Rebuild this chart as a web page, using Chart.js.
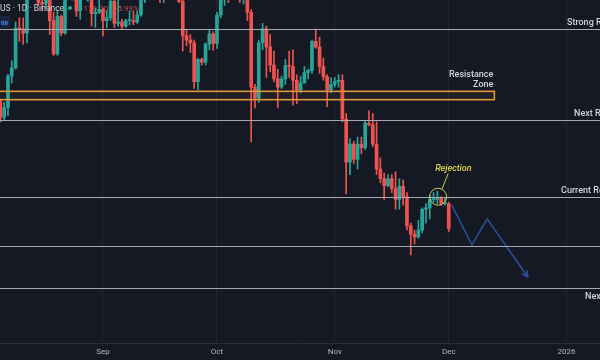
<!DOCTYPE html>
<html><head><meta charset="utf-8">
<script src="https://cdn.jsdelivr.net/npm/chart.js@4.4.1/dist/chart.umd.min.js"></script>
<style>html,body{margin:0;padding:0;background:#151924;overflow:hidden}#wrap{width:600px;height:360px;position:relative}</style>
</head><body><div id="wrap"><canvas id="c" width="600" height="360"></canvas></div>
<script>
// ---- DATA (Ethereum / TetherUS, 1D) ----
const startDate = '2025-08-05';
const opens = [
 3725,3612,3684,3910,3970,4255,4250,4220,4600,4750,4550,4440,4430,4470,4310,4070,4340,4220,4830,4780,4780,4380,4600,4510,4510,4360,4370,
 4390,4310,4330,4450,4290,4300,4270,4310,4310,4300,4350,4460,4720,4670,4600,4520,4500,4590,4580,4470,4480,4450,4200,4170,4150,3870,4030,4010,4140,4215,
 4145,4350,4480,4510,4490,4515,4690,4460,4525,4370,3830,3750,4150,4250,4120,3990,3890,3830,3890,3985,3980,3880,3810,3860,3935,3950,4160,4120,3980,3905,3810,
 3850,3870,3880,3600,3290,3420,3310,3420,3395,3570,3560,3420,3240,3170,3120,3170,3100,3020,3115,3040,2830,2770,2750,2800,2950,2960,3020,3020,3030,2990,
 2990];
const highs = [
 3745,3720,3925,4020,4300,4330,4330,4630,4790,4790,4730,4480,4520,4480,4370,4380,4350,4880,4850,4956,4800,4630,4660,4620,4530,4400,4480,
 4400,4380,4490,4490,4490,4320,4320,4380,4380,4380,4470,4740,4770,4680,4670,4520,4610,4640,4600,4500,4490,4460,4240,4210,4170,4040,4040,4150,4240,4230,
 4370,4500,4540,4530,4600,4755,4750,4530,4530,4390,3850,4170,4290,4270,4210,4090,3960,3910,4030,4090,4100,3920,3910,3980,3960,4170,4250,4190,4040,3920,3900,
 3900,3920,3920,3640,3460,3440,3470,3470,3590,3660,3640,3580,3320,3210,3200,3200,3220,3170,3160,3070,2850,2800,2870,2960,2990,3050,3070,3080,3040,3030,
 3000];
const lows = [
 3580,3595,3625,3860,3960,4160,4140,4150,4570,4480,4420,4380,4400,4210,4060,4060,4200,4210,4720,4700,4340,4320,4480,4450,4270,4260,4360,
 4200,4260,4310,4260,4270,4250,4260,4280,4280,4290,4340,4440,4630,4570,4480,4440,4440,4540,4460,4460,4440,4090,4130,4080,3820,3810,3990,3990,4100,4095,
 4110,4330,4420,4440,4470,4490,4440,4430,4310,3435,3680,3720,4100,3900,3940,3870,3680,3820,3850,3900,3700,3710,3790,3860,3890,3930,4110,3930,3880,3690,3790,
 3830,3830,3580,3060,3200,3280,3240,3350,3380,3550,3400,3200,3140,3020,3110,3070,2950,2950,2980,2800,2620,2700,2740,2780,2850,2880,3000,2990,2980,2980,
 2790];
const closes = [
 3612,3684,3910,3970,4255,4250,4220,4600,4750,4550,4440,4430,4470,4310,4070,4340,4220,4830,4780,4780,4380,4600,4510,4510,4360,4370,4390,
 4310,4330,4450,4290,4300,4270,4310,4310,4300,4350,4460,4720,4670,4600,4520,4500,4590,4580,4470,4480,4450,4200,4170,4150,3870,4030,4010,4140,4215,4145,
 4350,4480,4510,4490,4515,4690,4460,4525,4370,3830,3750,4150,4250,4120,3990,3890,3830,3890,3985,3980,3880,3810,3860,3935,3950,4160,4120,3980,3905,3810,3850,
 3870,3880,3600,3290,3420,3310,3420,3395,3570,3560,3420,3240,3170,3120,3170,3100,3020,3115,3040,2830,2770,2750,2800,2950,2960,3020,3020,3030,2990,2990,
 2811];

const tickDates  = ['2025-09-01','2025-10-01','2025-11-01','2025-12-01','2026-01-01'];
const tickLabels = ['Sep','Oct','Nov','Dec','2026'];

const levelValues = [4250, 3595, 3040, 2688, 2380];
const levelLabels = ['Strong Resistance','Next Resistance','Current Resistance','','Next Support'];

const zoneLow = 3740, zoneHigh = 3800, zoneEnd = '2025-12-13';
const zoneLabel = ['Resistance','Zone'];

const projDays   = [122.8, 128.1, 132.1, 142.8];  // days after 2025-08-01
const projPrices = [2980, 2692, 2880, 2461];

const rejectionDay = 119.2, rejectionPrice = 3040, rejectionText = 'Rejection';

const headerText = 'Ethereum / TetherUS · 1D · Binance';
const changeText = '−179.20 (−5.99%)';

// ---- helpers ----
const base = Date.UTC(2025,7,1);
function dayOf(s){const [y,m,d]=s.split('-').map(Number);return (Date.UTC(y,m-1,d)-base)/86400000;}
const startDay = dayOf(startDate);
const xs = opens.map((_,i)=>startDay+i);
const UP='#26a69a', DOWN='#ef5350';
const colors = opens.map((o,i)=> closes[i]>=o ? UP : DOWN);
const tickDays = tickDates.map(dayOf);

const bodies = opens.map((o,i)=>({x:xs[i], y:[o, closes[i]]}));
const wicks  = opens.map((o,i)=>({x:xs[i], y:[lows[i], highs[i]]}));
const proj = projDays.map((d,i)=>({x:d, y:projPrices[i]}));

const FONT = 'Roboto, "Liberation Sans", sans-serif';

const overlay = {
  id:'overlay',
  beforeDraw(chart){
    const c=chart.ctx; c.save(); c.fillStyle='#151924'; c.fillRect(0,0,chart.width,chart.height); c.restore();
  },
  beforeDatasetsDraw(chart){
    const c=chart.ctx; c.save();
    c.font='8px '+FONT; c.fillStyle='#c24d4f'; c.textBaseline='alphabetic';
    c.fillText(changeText, 79, 11);
    c.restore();
  },
  afterDatasetsDraw(chart){
    const c=chart.ctx, xS=chart.scales.x, yS=chart.scales.y, W=chart.width;
    c.save();
    // horizontal levels
    c.strokeStyle='#a7aab3'; c.lineWidth=1.2;
    levelValues.forEach(v=>{const y=Math.round(yS.getPixelForValue(v))+0.5;c.beginPath();c.moveTo(0,y);c.lineTo(W,y);c.stroke();});
    // zone
    const zt=yS.getPixelForValue(zoneHigh), zb=yS.getPixelForValue(zoneLow), zr=xS.getPixelForValue(dayOf(zoneEnd));
    c.fillStyle='rgba(230,150,50,0.05)'; c.fillRect(-5,zt,zr+5,zb-zt);
    c.strokeStyle='#e0993a'; c.lineWidth=1.6; c.strokeRect(-5,zt,zr+5,zb-zt);
    // labels
    c.fillStyle='#d1d4dc'; c.font='500 9px '+FONT; c.textBaseline='alphabetic';
    const lx=[567,574,561,null,585];
    levelValues.forEach((v,i)=>{ if(!levelLabels[i]) return; const y=yS.getPixelForValue(v);
      c.textAlign='left'; c.fillText(levelLabels[i], lx[i], i===4? y+11 : y-4);});
    c.textAlign='right';
    c.fillText(zoneLabel[0], zr-1, zt-14);
    c.fillText(zoneLabel[1], zr-1, zt-4);
    // rejection
    const cx=xS.getPixelForValue(rejectionDay), cy=yS.getPixelForValue(rejectionPrice);
    c.strokeStyle='#cfc35a'; c.lineWidth=1;
    c.beginPath(); c.arc(cx,cy,8.5,0,Math.PI*2); c.stroke();
    c.beginPath(); c.moveTo(cx+4,cy-8); c.lineTo(cx+10,cy-23); c.stroke();
    c.fillStyle='#e3d44a'; c.font='italic 500 9px '+FONT; c.textAlign='left';
    c.fillText(rejectionText, cx-3, cy-26);
    // arrowhead on projection
    const meta=chart.getDatasetMeta(2), pts=meta.data, n=pts.length;
    const p1=pts[n-2], p2=pts[n-1], ang=Math.atan2(p2.y-p1.y,p2.x-p1.x);
    c.strokeStyle='#2d4f9e'; c.lineWidth=1.5;
    c.beginPath();
    c.moveTo(p2.x-7*Math.cos(ang-0.5), p2.y-7*Math.sin(ang-0.5)); c.lineTo(p2.x,p2.y);
    c.lineTo(p2.x-7*Math.cos(ang+0.5), p2.y-7*Math.sin(ang+0.5)); c.stroke();
    // header
    c.font='8.5px '+FONT; c.fillStyle='#d1d4dc'; c.textAlign='left';
    const pre=c.measureText(headerText.slice(0, headerText.indexOf('US ·'))).width;
    c.fillText(headerText, -pre, 11);
    c.fillStyle='#22ab94'; c.beginPath(); c.arc(70,8,2,0,Math.PI*2); c.fill();
    // small button
    c.fillStyle='#1a2440'; c.fillRect(0,16,10,12);
    c.fillStyle='#4f86f7'; c.font='bold 6px '+FONT; c.fillText('88',1,24.5);
    c.restore();
  }
};

new Chart(document.getElementById('c'), {
  type:'bar',
  data:{datasets:[
    {data:wicks, backgroundColor:colors, barThickness:1, grouped:false, order:2, clip:false},
    {data:bodies, backgroundColor:colors, barThickness:3, grouped:false, order:1, minBarLength:1, clip:false},
    {type:'line', data:proj, borderColor:'#2d4f9e', borderWidth:1.5, pointRadius:0, tension:0, fill:false, order:0}
  ]},
  options:{
    responsive:false, animation:false, maintainAspectRatio:false,
    layout:{padding:0},
    plugins:{legend:{display:false}, tooltip:{enabled:false}},
    scales:{
      x:{type:'linear', min:3.9, max:161.8, offset:false,
         afterBuildTicks(s){ s.ticks = tickDays.map(v=>({value:v})); },
         afterFit(s){ s.height = 17; },
         ticks:{autoSkip:false, maxRotation:0, padding:4, color:'#b2b5be', font:{size:8, family:FONT},
                callback(v){ const i=tickDays.indexOf(v); return i>=0?tickLabels[i]:''; }},
         grid:{color:'rgba(50,55,70,0.4)', drawTicks:false, offset:false},
         border:{color:'#2a2e39'}},
      y:{display:false, min:1985.5, max:4458.6}
    }
  },
  plugins:[overlay]
});
</script></body></html>
